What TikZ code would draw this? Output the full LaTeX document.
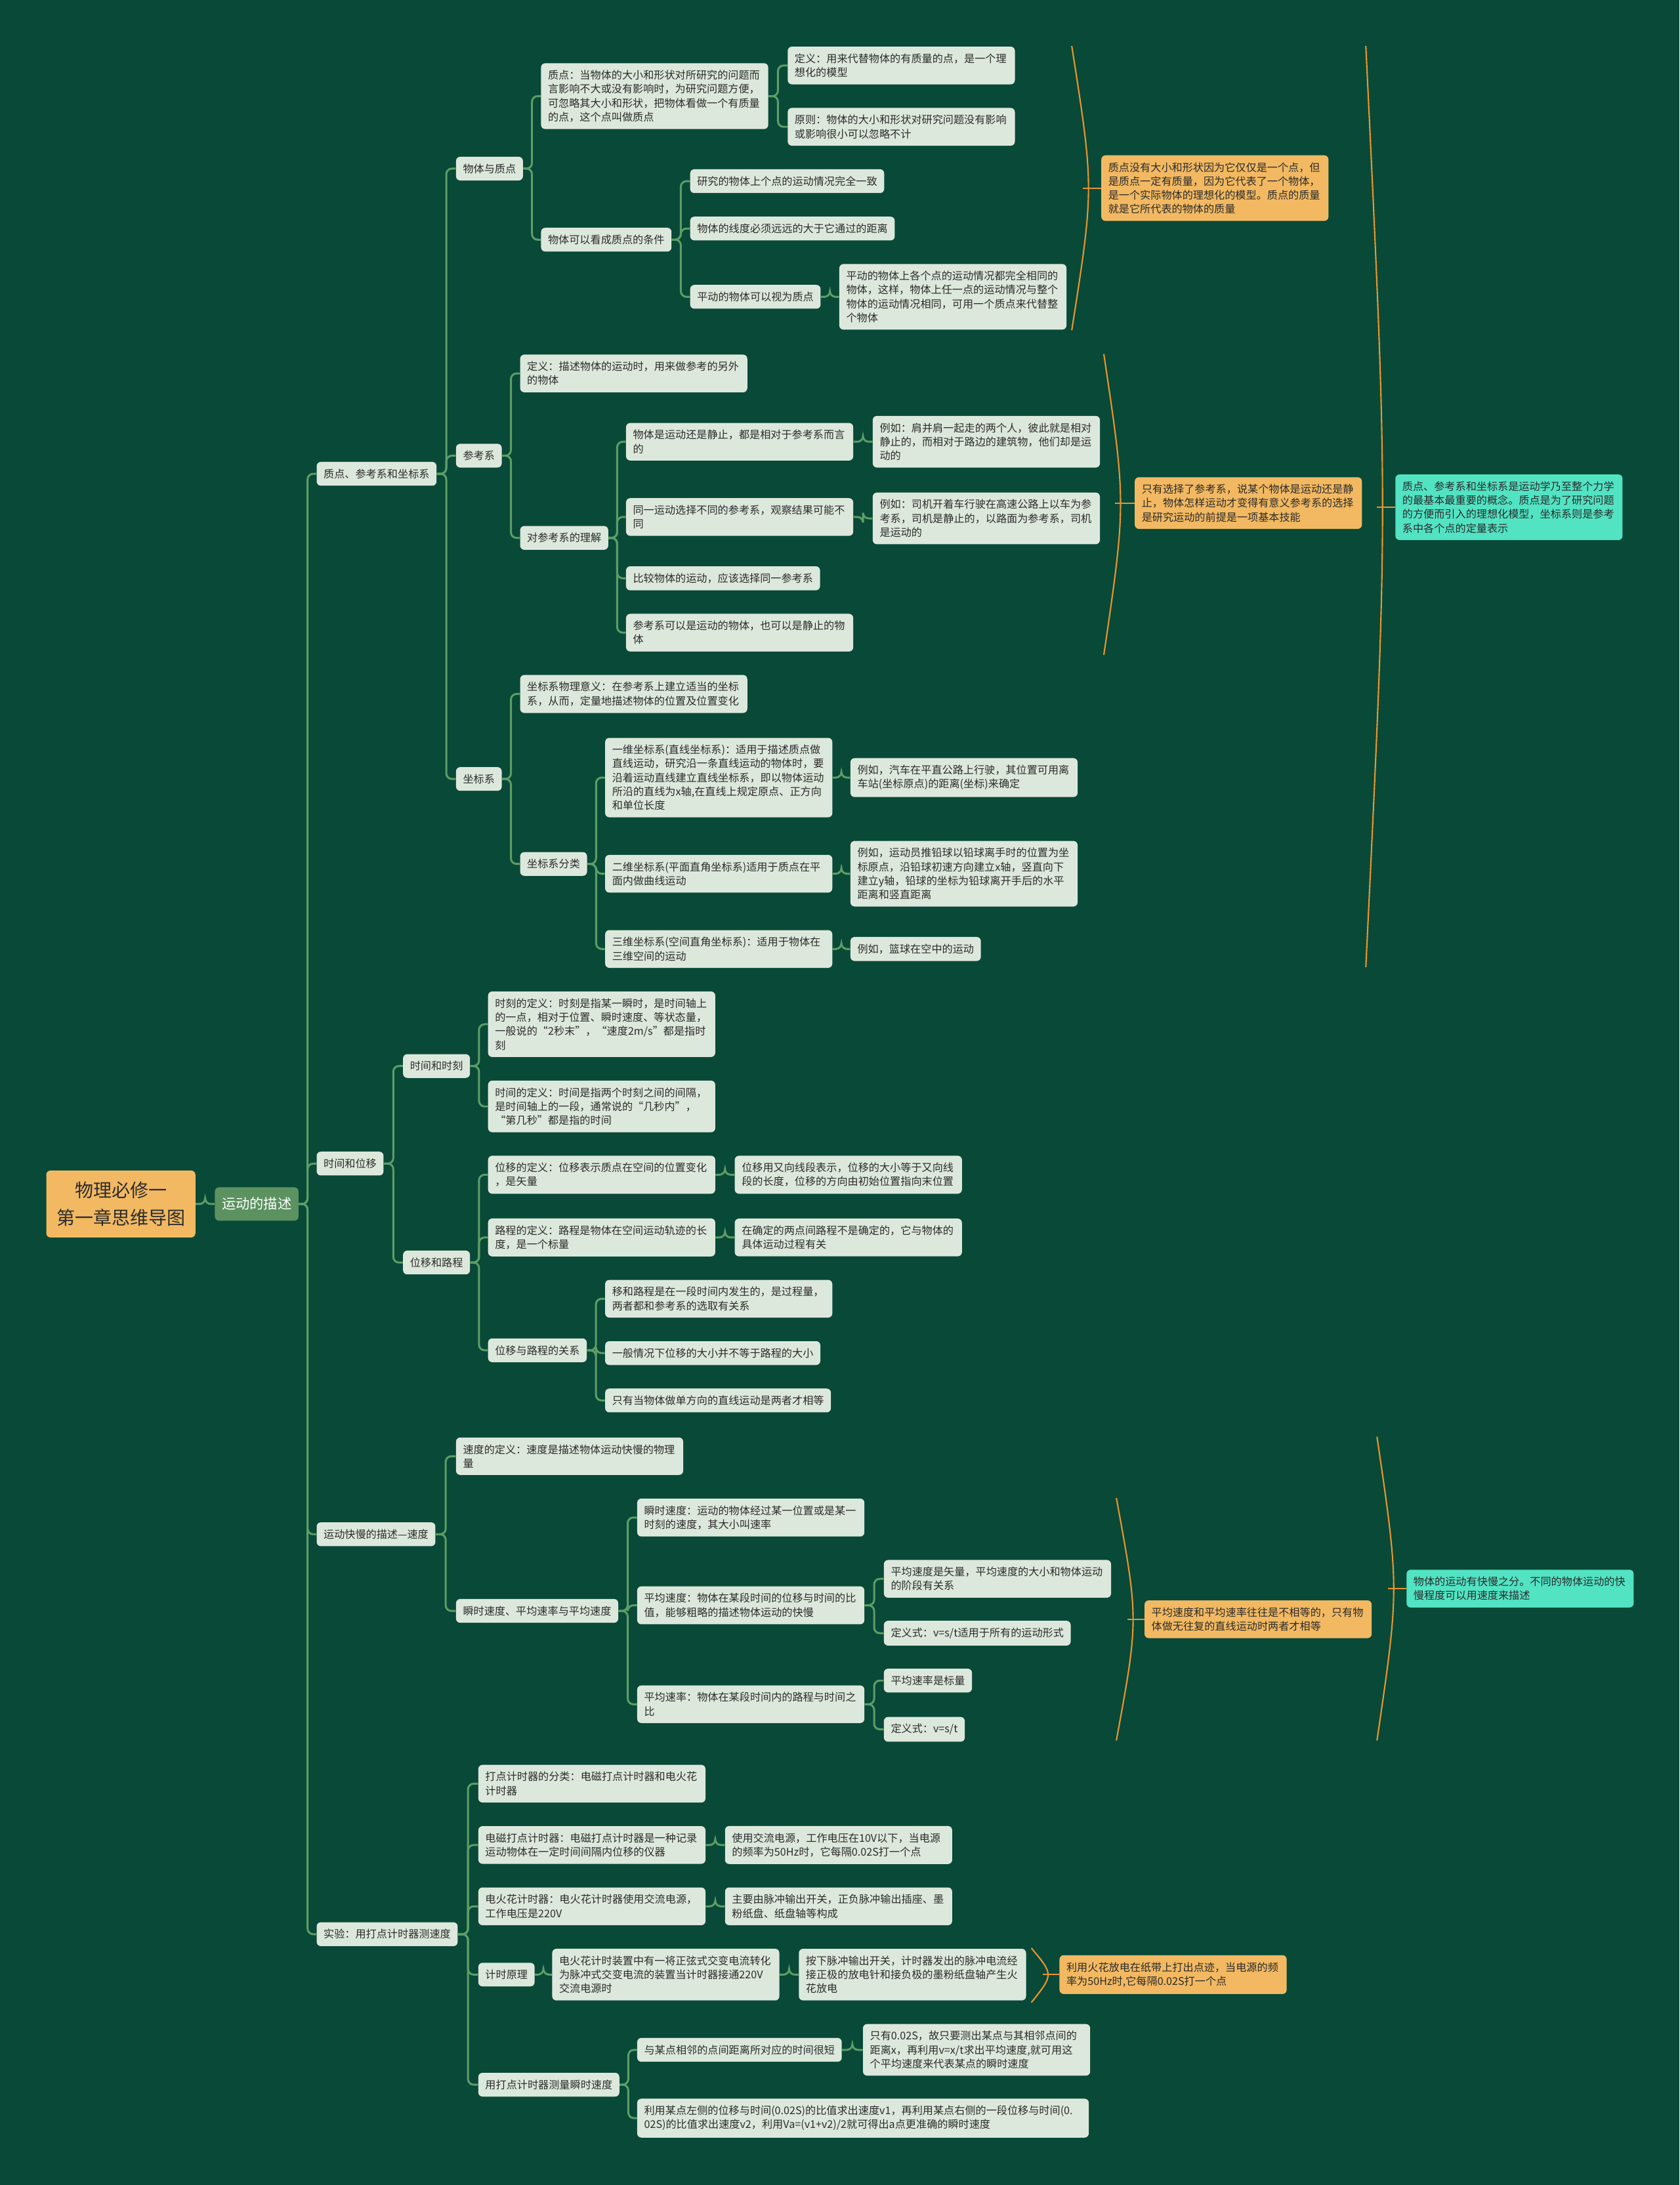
\documentclass[tikz,border=0pt]{standalone}
\usepackage{fontspec}
\newfontfamily\cjk{Noto Sans CJK SC}
\usetikzlibrary{calc}
\definecolor{bg}{HTML}{094938}
\definecolor{nodef}{HTML}{DDE8DC}
\definecolor{lineg}{HTML}{5E9E66}
\definecolor{txt}{HTML}{2B2B2B}
\definecolor{orgf}{HTML}{F2B962}
\definecolor{tealf}{HTML}{52E3C3}
\definecolor{brkc}{HTML}{E8952E}
\definecolor{gbox}{HTML}{5B9260}
\tikzset{
 lt/.style={fill=nodef, rounded corners=3pt, inner xsep=5pt, inner ysep=5pt, anchor=west, text=txt, font=\cjk\fontsize{7.6}{10}\selectfont, align=left},
 ml/.style={lt, text width=153pt},
 ob/.style={ml, fill=orgf},
 tb/.style={ml, fill=tealf},
 rootbox/.style={fill=orgf, rounded corners=3pt, anchor=west, text=txt, font=\cjk\fontsize{13.2}{20}\selectfont, align=center, minimum width=107pt, minimum height=48pt, inner sep=2pt},
 gnode/.style={fill=gbox, rounded corners=3pt, anchor=west, text=white, font=\cjk\fontsize{10}{12}\selectfont, minimum width=60pt, minimum height=24pt, inner sep=2pt},
 conn/.style={draw=lineg, line width=1.4pt, rounded corners=4pt, to path={-- ($(\tikztostart)!0.5!(\tikztotarget|-\tikztostart)$) |- (\tikztotarget)}},
 brk/.style={draw=brkc, line width=1pt}
}
\newcommand\brkt[5]{%
 \draw[brk] (#1,#2) .. controls (#1+16,#4) .. (#1,#3);
 \draw[brk] (#1+8,#4) -- (#5.west);}
\begin{document}
\begin{tikzpicture}[x=1pt,y=-1pt]
\fill[bg] (0,0) rectangle (1205,1568);
\useasboundingbox (0,0) rectangle (1205,1568);

\node[rootbox] (root) at (33,864) {物理必修一\\第一章思维导图};
\node[gnode] (mov) at (154,864) {运动的描述};

% ---------- A
\node[lt] (A) at (227,340) {质点、参考系和坐标系};
\node[lt] (A1) at (327,121) {物体与质点};
\node[ml] (A11) at (388,69) {质点：当物体的大小和形状对所研究的问题而\\言影响不大或没有影响时，为研究问题方便，\\可忽略其大小和形状，把物体看做一个有质量\\的点，这个点叫做质点};
\node[ml] (A111) at (565,47) {定义：用来代替物体的有质量的点，是一个理\\想化的模型};
\node[ml] (A112) at (565,91) {原则：物体的大小和形状对研究问题没有影响\\或影响很小可以忽略不计};
\node[lt] (A12) at (388,172) {物体可以看成质点的条件};
\node[lt] (A121) at (495,130) {研究的物体上个点的运动情况完全一致};
\node[lt] (A122) at (495,164) {物体的线度必须远远的大于它通过的距离};
\node[lt] (A123) at (495,213) {平动的物体可以视为质点};
\node[ml] (A1231) at (602,213) {平动的物体上各个点的运动情况都完全相同的\\物体，这样，物体上任一点的运动情况与整个\\物体的运动情况相同，可用一个质点来代替整\\个物体};
\node[lt] (A2) at (327,327) {参考系};
\node[ml] (A21) at (373,268) {定义：描述物体的运动时，用来做参考的另外\\的物体};
\node[lt] (A22) at (373,386) {对参考系的理解};
\node[ml] (A221) at (449,317) {物体是运动还是静止，都是相对于参考系而言\\的};
\node[ml] (A2211) at (626,317) {例如：肩并肩一起走的两个人，彼此就是相对\\静止的，而相对于路边的建筑物，他们却是运\\动的};
\node[ml] (A222) at (449,371) {同一运动选择不同的参考系，观察结果可能不\\同};
\node[ml] (A2221) at (626,372) {例如：司机开着车行驶在高速公路上以车为参\\考系，司机是静止的，以路面为参考系，司机\\是运动的};
\node[lt] (A223) at (449,415) {比较物体的运动，应该选择同一参考系};
\node[ml] (A224) at (449,454) {参考系可以是运动的物体，也可以是静止的物\\体};
\node[lt] (A3) at (327,559) {坐标系};
\node[ml] (A31) at (373,498) {坐标系物理意义：在参考系上建立适当的坐标\\系，从而，定量地描述物体的位置及位置变化};
\node[lt] (A32) at (373,620) {坐标系分类};
\node[ml] (A321) at (434,558) {一维坐标系(直线坐标系)：适用于描述质点做\\直线运动，研究沿一条直线运动的物体时，要\\沿着运动直线建立直线坐标系，即以物体运动\\所沿的直线为x轴,在直线上规定原点、正方向\\和单位长度};
\node[ml] (A3211) at (610,558) {例如，汽车在平直公路上行驶，其位置可用离\\车站(坐标原点)的距离(坐标)来确定};
\node[ml] (A322) at (434,627) {二维坐标系(平面直角坐标系)适用于质点在平\\面内做曲线运动};
\node[ml] (A3221) at (610,627) {例如，运动员推铅球以铅球离手时的位置为坐\\标原点，沿铅球初速方向建立x轴，竖直向下\\建立y轴，铅球的坐标为铅球离开手后的水平\\距离和竖直距离};
\node[ml] (A323) at (434,681) {三维坐标系(空间直角坐标系)：适用于物体在\\三维空间的运动};
\node[lt] (A3231) at (610,681) {例如，篮球在空中的运动};

% ---------- B
\node[lt] (B) at (227,835) {时间和位移};
\node[lt] (B1) at (289,765) {时间和时刻};
\node[ml] (B11) at (350,735) {时刻的定义：时刻是指某一瞬时，是时间轴上\\的一点，相对于位置、瞬时速度、等状态量，\\一般说的“2秒末”，“速度2m/s”都是指时\\刻};
\node[ml] (B12) at (350,794) {时间的定义：时间是指两个时刻之间的间隔，\\是时间轴上的一段，通常说的“几秒内”，\\“第几秒”都是指的时间};
\node[lt] (B2) at (289,906) {位移和路程};
\node[ml] (B21) at (350,843) {位移的定义：位移表示质点在空间的位置变化\\，是矢量};
\node[ml] (B211) at (527,843) {位移用又向线段表示，位移的大小等于又向线\\段的长度，位移的方向由初始位置指向末位置};
\node[ml] (B22) at (350,888) {路程的定义：路程是物体在空间运动轨迹的长\\度，是一个标量};
\node[ml] (B221) at (527,888) {在确定的两点间路程不是确定的，它与物体的\\具体运动过程有关};
\node[lt] (B23) at (350,969) {位移与路程的关系};
\node[ml] (B231) at (434,932) {移和路程是在一段时间内发生的，是过程量，\\两者都和参考系的选取有关系};
\node[lt] (B232) at (434,971) {一般情况下位移的大小并不等于路程的大小};
\node[lt] (B233) at (434,1005) {只有当物体做单方向的直线运动是两者才相等};

% ---------- C
\node[lt] (C) at (227,1101) {运动快慢的描述—速度};
\node[ml] (C1) at (327,1045) {速度的定义：速度是描述物体运动快慢的物理\\量};
\node[lt] (C2) at (327,1156) {瞬时速度、平均速率与平均速度};
\node[ml] (C21) at (457,1089) {瞬时速度：运动的物体经过某一位置或是某一\\时刻的速度，其大小叫速率};
\node[ml] (C22) at (457,1152) {平均速度：物体在某段时间的位移与时间的比\\值，能够粗略的描述物体运动的快慢};
\node[ml] (C221) at (634,1133) {平均速度是矢量，平均速度的大小和物体运动\\的阶段有关系};
\node[lt] (C222) at (634,1172) {定义式：v=s/t适用于所有的运动形式};
\node[ml] (C23) at (457,1223) {平均速率：物体在某段时间内的路程与时间之\\比};
\node[lt] (C231) at (634,1206) {平均速率是标量};
\node[lt] (C232) at (634,1241) {定义式：v=s/t};

% ---------- D
\node[lt] (D) at (227,1388) {实验：用打点计时器测速度};
\node[ml] (D1) at (343,1280) {打点计时器的分类：电磁打点计时器和电火花\\计时器};
\node[ml] (D2) at (343,1324) {电磁打点计时器：电磁打点计时器是一种记录\\运动物体在一定时间间隔内位移的仪器};
\node[ml] (D21) at (520,1324) {使用交流电源，工作电压在10V以下，当电源\\的频率为50Hz时，它每隔0.02S打一个点};
\node[ml] (D3) at (343,1368) {电火花计时器：电火花计时器使用交流电源，\\工作电压是220V};
\node[ml] (D31) at (520,1368) {主要由脉冲输出开关，正负脉冲输出插座、墨\\粉纸盘、纸盘轴等构成};
\node[lt] (D4) at (343,1417) {计时原理};
\node[ml] (D41) at (396,1417) {电火花计时装置中有一将正弦式交变电流转化\\为脉冲式交变电流的装置当计时器接通220V\\交流电源时};
\node[ml] (D411) at (573,1417) {按下脉冲输出开关，计时器发出的脉冲电流经\\接正极的放电针和接负极的墨粉纸盘轴产生火\\花放电};
\node[lt] (D5) at (343,1496) {用打点计时器测量瞬时速度};
\node[lt] (D51) at (457,1471) {与某点相邻的点间距离所对应的时间很短};
\node[ml] (D511) at (619,1471) {只有0.02S，故只要测出某点与其相邻点间的\\距离x，再利用v=x/t求出平均速度,就可用这\\个平均速度来代表某点的瞬时速度};
\node[lt, text width=314pt] (D52) at (457,1520) {利用某点左侧的位移与时间(0.02S)的比值求出速度v1，再利用某点右侧的一段位移与时间(0.\\02S)的比值求出速度v2，利用Va=(v1+v2)/2就可得出a点更准确的瞬时速度};

% ---------- summary boxes
\node[ob] (O1) at (790,135) {质点没有大小和形状因为它仅仅是一个点，但\\是质点一定有质量，因为它代表了一个物体，\\是一个实际物体的理想化的模型。质点的质量\\就是它所代表的物体的质量};
\node[ob] (O2) at (814,361) {只有选择了参考系，说某个物体是运动还是静\\止，物体怎样运动才变得有意义参考系的选择\\是研究运动的前提是一项基本技能};
\node[tb] (T1) at (1001,364) {质点、参考系和坐标系是运动学乃至整个力学\\的最基本最重要的概念。质点是为了研究问题\\的方便而引入的理想化模型，坐标系则是参考\\系中各个点的定量表示};
\node[ob] (O3) at (821,1162) {平均速度和平均速率往往是不相等的，只有物\\体做无往复的直线运动时两者才相等};
\node[tb] (T2) at (1009,1140) {物体的运动有快慢之分。不同的物体运动的快\\慢程度可以用速度来描述};
\node[ob] (O4) at (760,1417) {利用火花放电在纸带上打出点迹，当电源的频\\率为50Hz时,它每隔0.02S打一个点};

% ---------- connectors
\foreach \p/\c in {root/mov, mov/A, mov/B, mov/C, mov/D,
  A/A1, A/A2, A/A3, A1/A11, A1/A12, A11/A111, A11/A112, A12/A121, A12/A122, A12/A123, A123/A1231,
  A2/A21, A2/A22, A22/A221, A22/A222, A22/A223, A22/A224, A221/A2211, A222/A2221,
  A3/A31, A3/A32, A32/A321, A32/A322, A32/A323, A321/A3211, A322/A3221, A323/A3231,
  B/B1, B/B2, B1/B11, B1/B12, B2/B21, B2/B22, B2/B23, B21/B211, B22/B221, B23/B231, B23/B232, B23/B233,
  C/C1, C/C2, C2/C21, C2/C22, C2/C23, C22/C221, C22/C222, C23/C231, C23/C232,
  D/D1, D/D2, D/D3, D/D4, D/D5, D2/D21, D3/D31, D4/D41, D41/D411, D5/D51, D5/D52, D51/D511}
  {\draw[conn] (\p.east) to (\c.west);}

% ---------- brackets
\brkt{769}{33}{237}{135}{O1}
\brkt{792}{254}{470}{361}{O2}
\brkt{980}{33}{694}{364}{T1}
\brkt{801}{1075}{1249}{1162}{O3}
\brkt{988}{1031}{1249}{1140}{T2}
\brkt{740}{1398}{1437}{1417}{O4}
\end{tikzpicture}
\end{document}
